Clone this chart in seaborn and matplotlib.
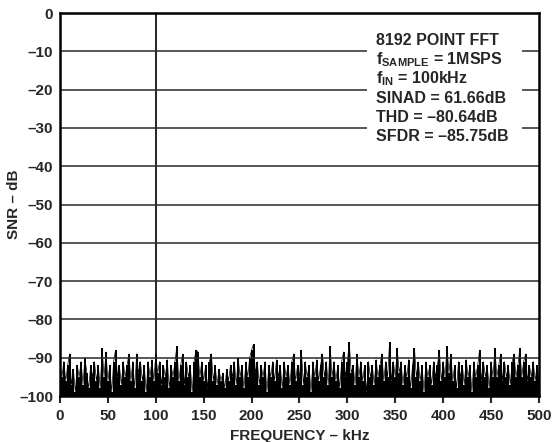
import numpy as np
import pandas as pd
import matplotlib
matplotlib.use("Agg")
import matplotlib.pyplot as plt
import seaborn as sns
from matplotlib.patches import Rectangle

# noise floor, one value every 2 kHz (0..500 kHz)
noise_db = [
    -92, -95, -91, -96, -92, -89, -97, -93, -99, -92,
    -95, -91, -97, -90, -94, -98, -92, -95, -91, -96,
    -92, -98, -87.5, -95, -88.5, -96, -92, -99, -91, -88,
    -95, -92, -97, -91, -95, -92, -89, -96, -91, -98,
    -89, -94, -91, -96, -92, -99, -91, -95, -90.5, -96,
    -89, -94, -91, -97, -92, -95, -90.5, -98, -92, -95,
    -91, -87, -96, -92, -89, -97, -91, -95, -92, -99,
    -91, -88, -88.5, -95, -91, -96, -92, -98, -91, -89,
    -96, -92, -97, -93, -96, -94, -98, -93, -96, -92,
    -95, -91, -97, -90, -95, -92, -98, -91, -95, -90,
    -88, -86.5, -94, -91, -97, -92, -95, -91, -99, -92,
    -95, -91, -96, -90.5, -95, -92, -98, -91, -95, -92,
    -97, -91, -89, -96, -92, -95, -88, -97, -91, -95,
    -92, -99, -91, -95, -90.5, -96, -92, -89, -95, -91,
    -97, -87, -95, -91, -96, -92, -98, -91, -88.5, -95,
    -91, -86, -94, -92, -97, -89, -95, -91, -96, -92,
    -99, -91, -95, -92, -97, -90.5, -95, -92, -89, -96,
    -91, -95, -86, -96, -91, -95, -87.5, -94, -91, -97,
    -92, -95, -90.5, -98, -92, -87.5, -95, -91, -96, -92,
    -99, -91, -95, -92, -97, -91, -95, -92, -88, -96,
    -91, -95, -87, -94, -89, -96, -92, -98, -91, -95,
    -92, -97, -90.5, -95, -92, -99, -91, -95, -92, -88,
    -96, -91, -95, -92, -98, -91, -95, -87.5, -95, -92,
    -89, -96, -91, -95, -92, -97, -91, -89, -95, -92,
    -87.5, -95, -91, -89, -96, -92, -95, -91, -96, -92,
    -95,
]
freq_khz = np.linspace(0, 500, len(noise_db))

fund_freq = 100
fund_db = 0

info_lines = [
    "8192 POINT FFT",
    r"f$_{\rm SAMPLE}$ = 1MSPS",
    r"f$_{\rm IN}$ = 100kHz",
    "SINAD = 61.66dB",
    "THD = \u201380.64dB",
    "SFDR = \u201385.75dB",
]

x_ticks = [0, 50, 100, 150, 200, 250, 300, 350, 400, 450, 500]
y_ticks = [0, -10, -20, -30, -40, -50, -60, -70, -80, -90, -100]

sns.set_theme(style="white")
plt.rcParams["font.family"] = ["Liberation Sans", "DejaVu Sans"]
plt.rcParams["font.weight"] = "bold"
plt.rcParams["mathtext.fontset"] = "custom"
plt.rcParams["mathtext.rm"] = "Liberation Sans:bold"
plt.rcParams["mathtext.bf"] = "Liberation Sans:bold"
plt.rcParams["mathtext.it"] = "Liberation Sans:bold"

df = pd.DataFrame({"freq": freq_khz, "db": noise_db})

fig = plt.figure(figsize=(5.54, 4.42), dpi=100)
ax = fig.add_axes([0.1083, 0.104, 0.8646, 0.8665])

# spectrum as stems from the floor, plus a trace joining the tips
ax.vlines(df["freq"], -100, df["db"], color="black", lw=1.45, zorder=2)
sns.lineplot(data=df, x="freq", y="db", ax=ax, color="black", lw=0.5, zorder=2)
ax.vlines(fund_freq, -100, fund_db, color="black", lw=1.2, zorder=3)

for y in y_ticks[1:-1]:
    ax.axhline(y, color="#2a2a2a", lw=1.1, zorder=4)

ax.add_patch(Rectangle((320, -34.5), 162, 30, facecolor="white",
                       edgecolor="none", zorder=5))
for i, line in enumerate(info_lines):
    ax.text(330, -7.13 - 5.04 * i, line, fontsize=11.5, fontweight="bold",
            va="center", ha="left", zorder=6)

ax.set_xlim(0, 500)
ax.set_ylim(-100, 0)
ax.set_xticks(x_ticks)
ax.set_xticklabels([str(v) for v in x_ticks], fontsize=11, fontweight="bold")
ax.set_yticks(y_ticks)
ax.set_yticklabels([str(v).replace("-", "\u2013") for v in y_ticks],
                   fontsize=11, fontweight="bold")
ax.tick_params(axis="x", direction="out", length=5, width=1.5, pad=4, bottom=True)
ax.tick_params(axis="y", length=0, pad=5)

ax.set_xlabel("FREQUENCY \u2013 kHz", fontsize=11, fontweight="bold", labelpad=5)
ax.set_ylabel("SNR \u2013 dB", fontsize=11, fontweight="bold")
ax.yaxis.set_label_coords(-0.082, 0.5)

for s in ax.spines.values():
    s.set_color("black")
    s.set_linewidth(1.8)
    s.set_zorder(7)

fig.savefig("out.png", dpi=100)
